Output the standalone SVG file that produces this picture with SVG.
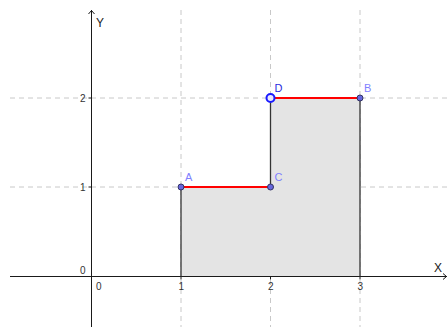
<svg xmlns="http://www.w3.org/2000/svg" width="447" height="327" viewBox="0 0 447 327">
<style>
.grid{stroke:#c8c8c8;stroke-width:1;stroke-dasharray:5,4;fill:none}
.axis{stroke:#1a1a1a;stroke-width:1;fill:none}
.edge{stroke:#333;stroke-width:1.3;fill:none}
.red{stroke:#ff0000;stroke-width:2;fill:none}
.tick{font-family:"Liberation Sans",Arial,sans-serif;font-size:10px;fill:#333}
.axl{font-family:"Liberation Sans",Arial,sans-serif;font-size:12px;fill:#222}
.pl{font-family:"Liberation Sans",Arial,sans-serif;font-size:11px;fill:#7f7fff}
.pt{fill:#6666dd;stroke:#333366;stroke-width:1}
</style>
<rect width="447" height="327" fill="#fff"/>
<g id="grid">
<line class="grid" x1="181" y1="10" x2="181" y2="327"/>
<line class="grid" x1="270.5" y1="10" x2="270.5" y2="327"/>
<line class="grid" x1="360" y1="10" x2="360" y2="327"/>
<line class="grid" x1="10" y1="98" x2="447" y2="98"/>
<line class="grid" x1="10" y1="187" x2="447" y2="187"/>
</g>
<g id="region">
<polygon points="181,276.5 181,187 270.5,187 270.5,98 360,98 360,276.5" fill="#e4e4e4"/>
</g>
<g id="axes">
<line class="axis" x1="10" y1="276.5" x2="447" y2="276.5"/>
<line class="axis" x1="91.5" y1="10" x2="91.5" y2="327"/>
<polyline class="axis" points="88.5,14 91.5,10.5 94.5,14"/>
<polyline class="axis" points="443,273.5 446.5,276.5 443,279.5"/>
<line class="axis" x1="88.5" y1="98" x2="91.5" y2="98"/>
<line class="axis" x1="88.5" y1="187" x2="91.5" y2="187"/>
<line class="axis" x1="181" y1="276.5" x2="181" y2="279.5"/>
<line class="axis" x1="270.5" y1="276.5" x2="270.5" y2="279.5"/>
<line class="axis" x1="360" y1="276.5" x2="360" y2="279.5"/>
<text class="tick" x="80" y="101.5">2</text>
<text class="tick" x="80" y="190.5">1</text>
<text class="tick" x="80" y="273.5">0</text>
<text class="tick" x="96" y="289.5">0</text>
<text class="tick" x="178.5" y="289.5">1</text>
<text class="tick" x="268" y="289.5">2</text>
<text class="tick" x="357.5" y="289.5">3</text>
<text class="axl" x="96" y="27">Y</text>
<text class="axl" x="434" y="272">X</text>
</g>
<g id="connectors">
<line class="edge" x1="181" y1="187" x2="181" y2="276.5"/>
<line class="edge" x1="270.5" y1="98" x2="270.5" y2="187"/>
<line class="edge" x1="360" y1="98" x2="360" y2="276.5"/>
<line class="red" x1="181" y1="187" x2="270.5" y2="187"/>
<line class="red" x1="270.5" y1="98" x2="360" y2="98"/>
</g>
<g id="A"><circle class="pt" cx="181" cy="187" r="3"/><text class="pl" x="185" y="181">A</text></g>
<g id="C"><circle class="pt" cx="270.5" cy="187" r="3"/><text class="pl" x="274.5" y="181">C</text></g>
<g id="B"><circle class="pt" cx="360" cy="98" r="3"/><text class="pl" x="364" y="92">B</text></g>
<g id="D"><circle cx="270.5" cy="98" r="4" fill="#e8e8ff" stroke="#1a1aff" stroke-width="2"/><text class="pl" x="274.5" y="92" fill="#2222dd" style="fill:#2a2ae0">D</text></g>
</svg>
